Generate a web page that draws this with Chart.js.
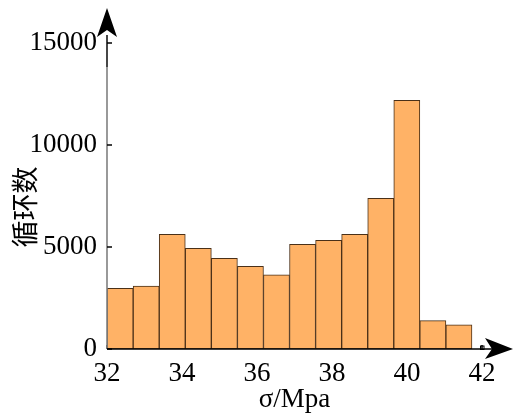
<!DOCTYPE html>
<html>
<head>
<meta charset="utf-8">
<script src="https://cdn.jsdelivr.net/npm/chart.js@4.4.1/dist/chart.umd.min.js"></script>
<style>
html,body{margin:0;padding:0;background:#fff;}
#wrap{width:513px;height:415px;}
</style>
</head>
<body>
<div id="wrap"><canvas id="c" width="513" height="415"></canvas></div>
<script>
// bin centres (σ/Mpa), bin width ≈ 0.695
const binCenters = [32.350, 33.045, 33.740, 34.435, 35.130, 35.825, 36.520, 37.215, 37.910, 38.605, 39.300, 39.995, 40.690, 41.385];
const cycleCounts = [2970, 3080, 5620, 4930, 4440, 4050, 3640, 5130, 5330, 5620, 7390, 12190, 1390, 1190];
const xTicks = [32, 34, 36, 38, 40, 42];
const yTicks = [0, 5000, 10000, 15000];
const xTitle = 'σ/Mpa';
const yTitle = '循环数';

const serif = '"Liberation Serif", "Times New Roman", serif';

const axesPlugin = {
  id: 'axesPlugin',
  beforeDatasetsDraw(chart) {
    const ctx = chart.ctx, x = chart.scales.x, y = chart.scales.y;
    const y0 = y.getPixelForValue(0);
    ctx.save();
    ctx.strokeStyle = '#000';
    ctx.lineWidth = 1.5;
    xTicks.forEach(v => {
      const px = x.getPixelForValue(v);
      ctx.beginPath(); ctx.moveTo(px, y0); ctx.lineTo(px, y0 - 4); ctx.stroke();
    });
    ctx.restore();
  },
  afterDatasetsDraw(chart) {
    const ctx = chart.ctx, x = chart.scales.x, y = chart.scales.y;
    const x0 = x.getPixelForValue(32), y0 = y.getPixelForValue(0);
    const yTop = y.getPixelForValue(15000);
    ctx.save();
    ctx.strokeStyle = '#808080';
    ctx.lineWidth = 1.6;
    ctx.beginPath(); ctx.moveTo(x0, y0); ctx.lineTo(x0, yTop - 8); ctx.stroke();
    ctx.strokeStyle = '#333';
    ctx.beginPath(); ctx.moveTo(x0, yTop + 24); ctx.lineTo(x0, yTop - 8); ctx.stroke();
    ctx.strokeStyle = '#000';
    ctx.lineWidth = 1.5;
    yTicks.forEach(v => {
      const py = y.getPixelForValue(v);
      ctx.beginPath(); ctx.moveTo(x0, py); ctx.lineTo(x0 + 5, py); ctx.stroke();
    });
    const xEnd = x.getPixelForValue(42);
    ctx.beginPath(); ctx.moveTo(x0, y0); ctx.lineTo(xEnd + 10, y0); ctx.stroke();
    ctx.lineWidth = 1;
    ctx.strokeRect(xEnd - 1.5, y0 - 3, 3.5, 3.5);
    ctx.fillStyle = '#000';
    ctx.beginPath();
    ctx.moveTo(x0, yTop - 35);
    ctx.lineTo(x0 + 10, yTop - 6);
    ctx.lineTo(x0, yTop - 13);
    ctx.lineTo(x0 - 10, yTop - 6);
    ctx.closePath(); ctx.fill();
    ctx.beginPath();
    ctx.moveTo(513, y0);
    ctx.lineTo(485, y0 - 11);
    ctx.lineTo(492, y0);
    ctx.lineTo(485, y0 + 10);
    ctx.closePath(); ctx.fill();
    ctx.translate(25, 207);
    ctx.rotate(-Math.PI / 2);
    ctx.font = '27px "Noto Sans CJK SC", sans-serif';
    ctx.textAlign = 'center';
    ctx.textBaseline = 'middle';
    ctx.fillText(yTitle, 0, 0);
    ctx.restore();
  }
};

const data = binCenters.map((c, i) => ({ x: c, y: cycleCounts[i] }));

new Chart(document.getElementById('c'), {
  type: 'bar',
  data: {
    datasets: [{
      data: data,
      backgroundColor: '#FFB266',
      borderColor: '#4a3018',
      borderWidth: 1,
      barPercentage: 1.0,
      categoryPercentage: 1.0,
      borderSkipped: false
    }]
  },
  options: {
    responsive: false,
    animation: false,
    devicePixelRatio: 1,
    layout: { padding: { left: 0, right: 31, top: 43, bottom: 0 } },
    plugins: { legend: { display: false }, tooltip: { enabled: false } },
    scales: {
      x: {
        type: 'linear',
        min: 32, max: 42,
        offset: false,
        afterFit(s) { s.height = 66; },
        afterBuildTicks(s) { s.ticks = xTicks.map(v => ({ value: v })); },
        grid: { display: false },
        border: { display: false },
        ticks: { color: '#000', font: { family: serif, size: 27 }, padding: 1, maxRotation: 0, autoSkip: false,
                 callback: v => String(v) },
        title: { display: true, text: xTitle, color: '#000', font: { family: serif, size: 27 }, padding: { top: 0, bottom: -1 } }
      },
      y: {
        min: 0, max: 15000,
        afterFit(s) { s.width = 107; },
        afterBuildTicks(s) { s.ticks = yTicks.map(v => ({ value: v })); },
        grid: { display: false },
        border: { display: false },
        ticks: { color: '#000', font: { family: serif, size: 27 }, padding: 2, callback: v => String(v) },
        title: { display: false }
      }
    }
  },
  plugins: [axesPlugin]
});
</script>
</body>
</html>
